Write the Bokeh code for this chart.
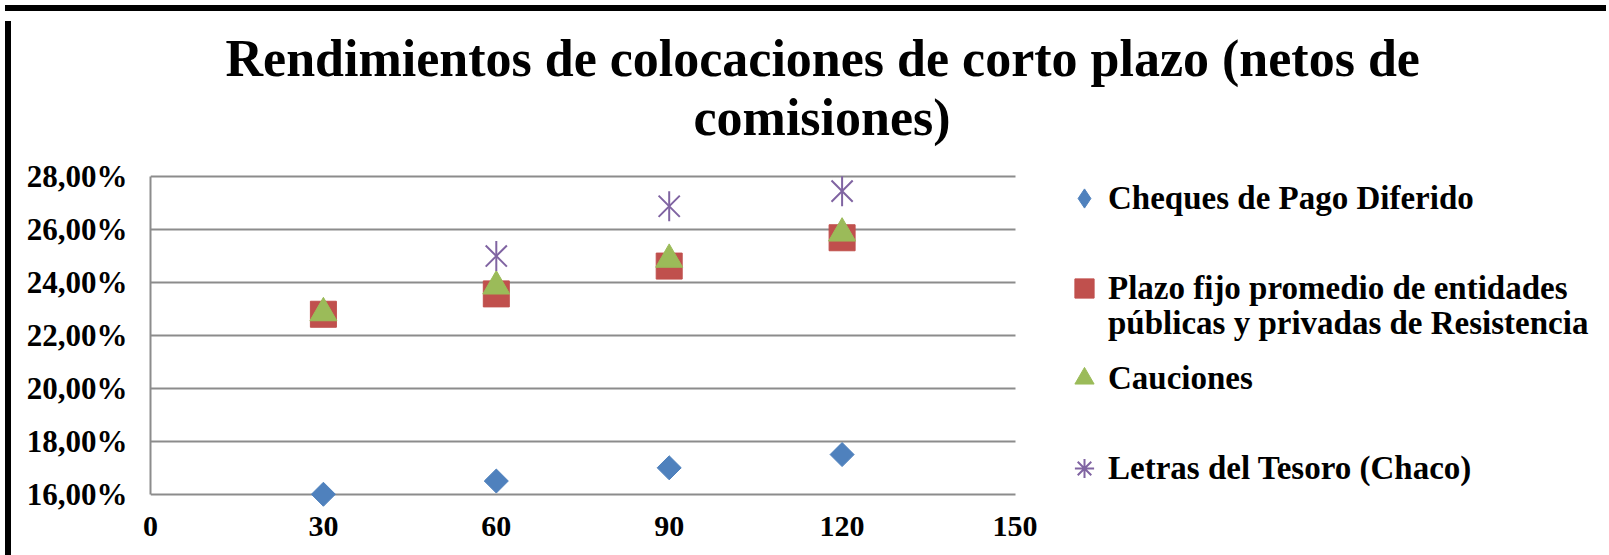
import numpy as np
from bokeh.plotting import figure
from bokeh.layouts import column, row
from bokeh.models import Range1d, FixedTicker, Legend, LegendItem, Title, Div, Grid
from bokeh.embed import file_html
from bokeh.resources import INLINE

# ---- data ----
dias = [30, 60, 90, 120]
cheques = [16.0, 16.5, 17.0, 17.5]
plazo_fijo = [22.8, 23.57, 24.62, 25.69]
cauciones = [22.85, 23.86, 24.87, 25.86]
dias_letras = [60, 90, 120]
letras = [25.0, 26.88, 27.45]

x_ticks = [0, 30, 60, 90, 120, 150]
y_ticks = [16, 18, 20, 22, 24, 26, 28]
y_tick_labels = ["16,00%", "18,00%", "20,00%", "22,00%", "24,00%", "26,00%", "28,00%"]

series_names = [
    "Cheques de Pago Diferido",
    "Plazo fijo promedio de entidades",
    "Cauciones",
    "Letras del Tesoro (Chaco)",
]
series_name_cont = "públicas y privadas de Resistencia"   # second line of entry 2
title_lines = ["Rendimientos de colocaciones de corto plazo (netos de", "comisiones)"]

BLUE, RED, GREEN, PURPLE = "#4F81BD", "#C0504D", "#9BBB59", "#8064A2"
GRID = "#8c8c8c"
FONT = "Liberation Serif"

# layout (pixels)
W, H = 1595, 541
LEFT, TOP, BOTTOM = 134, 158, 50
PX_PER_X = 864.5 / 150.0          # horizontal scale of the plotting area
frame_w = W - LEFT
x_end = frame_w / PX_PER_X        # frame extends under the legend area

p = figure(width=W, height=H, output_backend="svg", toolbar_location=None,
           x_range=Range1d(0, x_end), y_range=Range1d(15.5, 28.08),
           min_border_left=LEFT, min_border_right=0,
           min_border_top=TOP, min_border_bottom=BOTTOM)
p.outline_line_color = None
p.background_fill_color = "white"
p.border_fill_color = "white"
p.title.text = ""

# two-line title, each line centred over the chart area
spacer = Title(text=" ", text_font_size="10px", standoff=15)
t2 = Title(text=title_lines[1], align="left", offset=543, standoff=1,
           text_font=FONT, text_font_style="bold", text_font_size="52px", text_color="black")
t1 = Title(text=title_lines[0], align="left", offset=75, standoff=0,
           text_font=FONT, text_font_style="bold", text_font_size="52px", text_color="black")
p.add_layout(spacer, "above")
p.add_layout(t2, "above")
p.add_layout(t1, "above")

# axes
p.xaxis.ticker = FixedTicker(ticks=x_ticks)
p.xaxis.axis_line_color = None
p.xaxis.major_tick_line_color = None
p.xaxis.minor_tick_line_color = None
p.xaxis.major_label_standoff = 3
p.xaxis.major_label_text_font = FONT
p.xaxis.major_label_text_font_style = "bold"
p.xaxis.major_label_text_font_size = "30px"
p.xaxis.major_label_text_color = "black"

p.yaxis.ticker = FixedTicker(ticks=y_ticks)
p.yaxis.major_label_overrides = {t: l for t, l in zip(y_ticks, y_tick_labels)}
p.yaxis.bounds = (y_ticks[0], y_ticks[-1])
p.yaxis.axis_line_color = GRID
p.yaxis.axis_line_width = 2
p.yaxis.major_tick_line_color = None
p.yaxis.minor_tick_line_color = None
p.yaxis.major_label_standoff = 17
p.yaxis.major_label_text_font = FONT
p.yaxis.major_label_text_font_style = "bold"
p.yaxis.major_label_text_font_size = "31px"
p.yaxis.major_label_text_color = "black"

p.xgrid.visible = False
if "cross_bounds" in Grid.properties():
    p.ygrid.cross_bounds = (x_ticks[0], x_ticks[-1])
    p.ygrid.grid_line_color = GRID
    p.ygrid.grid_line_width = 2
else:
    p.ygrid.visible = False
    p.segment(x0=[x_ticks[0]] * len(y_ticks), x1=[x_ticks[-1]] * len(y_ticks),
              y0=y_ticks, y1=y_ticks, line_color=GRID, line_width=2)

# series
r_ch = p.scatter(dias, cheques, marker="square", angle=np.pi / 4, size=17,
                 fill_color=BLUE, line_color=BLUE)
r_pf = p.scatter(dias, plazo_fijo, marker="square", size=26,
                 fill_color=RED, line_color=RED)
r_ca = p.scatter(dias, cauciones, marker="triangle", size=27,
                 fill_color=GREEN, line_color=GREEN)
r_lx = p.scatter(dias_letras, letras, marker="x", size=30, line_color=PURPLE, line_width=2)
r_lv = p.scatter(dias_letras, letras, marker="dash", angle=np.pi / 2, size=30,
                 line_color=PURPLE, line_width=2)

# legend-only glyphs (the legend does not rotate markers)
l_ch = p.scatter(dias, cheques, marker="diamond", fill_color=BLUE, line_color=BLUE, visible=False)
l_le = p.scatter(dias_letras, letras, marker="asterisk", line_color=PURPLE, line_width=2, visible=False)
l_blank = p.scatter(dias[:1], cheques[:1], marker="circle", fill_alpha=0, line_alpha=0, visible=False)

legend_style = dict(glyph_width=48, glyph_height=52, label_standoff=0, padding=0, margin=0,
                    border_line_color=None, background_fill_alpha=0,
                    label_text_font=FONT, label_text_font_style="bold",
                    label_text_font_size="33px", label_text_color="black")
legend = Legend(items=[
    LegendItem(label=series_names[0], renderers=[l_ch]),
    LegendItem(label=series_names[1], renderers=[r_pf]),
    LegendItem(label=series_names[2], renderers=[r_ca]),
    LegendItem(label=series_names[3], renderers=[l_le]),
], location=(910, 13), spacing=38, **legend_style)
legend_cont = Legend(items=[LegendItem(label=series_name_cont, renderers=[l_blank])],
                     location=(910, 158), **legend_style)
p.add_layout(legend)
p.add_layout(legend_cont)

# black frame edges (top and left) of the chart box
top_bar = Div(width=W + 6, height=6, styles={"background-color": "black"})
left_bar = Div(width=6, height=H, styles={"background-color": "black"})
layout = column(top_bar, row(left_bar, p, spacing=0), spacing=0)

open("out.html", "w").write(file_html(layout, INLINE))
